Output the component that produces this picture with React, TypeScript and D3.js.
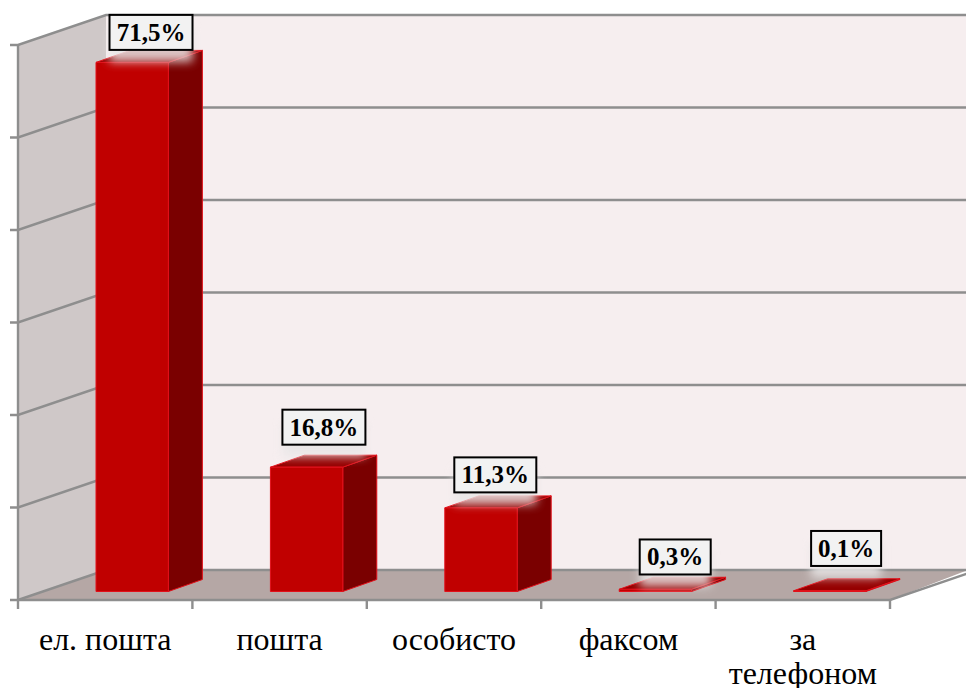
import React from "react";
import * as d3 from "d3";

const categories = ["ел. пошта", "пошта", "особисто", "факсом", "за телефоном"];
const values = [71.5, 16.8, 11.3, 0.3, 0.1];
const valueLabels = ["71,5%", "16,8%", "11,3%", "0,3%", "0,1%"];
const yTicks = [0, 12.5, 25, 37.5, 50, 62.5, 75];
const labelOffsets = [
  { x: 13.5, y: 12.5 },
  { x: 12, y: 22.5 },
  { x: 9.5, y: 15.5 },
  { x: 20.5, y: 14.8 },
  { x: 17.5, y: 24.8 },
];
const labelWidths = [83, 83, 82, 71, 70];

const W = 966;
const H = 688;
const left = 18;
const right = 890;
const floorFront = 600;
const topFront = 45;
const depthX = 88;
const depthY = 30;
const barDepthX = 34;
const barDepthY = 12;
const barInsetY = 8.5;
const barInsetX = 27;

const colors = {
  wall: "#f6eeef",
  side: "#cfc8c8",
  floor: "#b5a7a5",
  grid: "#8e8e8e",
  front: "#c00000",
  dark: "#7a0000",
  top: "#950000",
  edge: "#e2101a",
  text: "#000",
  box: "#f2f2f2",
};

const y = d3.scaleLinear().domain([0, 75]).range([floorFront, topFront]);
const x = d3.scaleBand<string>().domain(categories).range([left, right]).paddingInner(0.585).paddingOuter(0.2925);
const tickX = d3.scalePoint<string>().domain(categories).range([left, right]).padding(0.5);
const poly = (p: [number, number][]) => d3.line()(p)! + "Z";
const fontFamily = "'Liberation Serif', serif";

export default function App() {
  const bandStep = x.step();
  const backRight = W + 2;
  return (
    <svg width={W} height={H} style={{ position: "absolute", left: 0, top: 0, background: "#fff" }}>
      <defs>
        <filter id="glow" x="-30%" y="-50%" width="160%" height="200%">
          <feGaussianBlur stdDeviation="5" />
        </filter>
      </defs>
      <path d={poly([[left + depthX, y(75) - depthY], [backRight, y(75) - depthY], [backRight, y(0) - depthY], [left + depthX, y(0) - depthY]])} fill={colors.wall} />
      <path d={poly([[left, y(75)], [left + depthX, y(75) - depthY], [left + depthX, y(0) - depthY], [left, y(0)]])} fill={colors.side} />
      <path d={poly([[left, y(0)], [left + depthX, y(0) - depthY], [backRight, y(0) - depthY], [right, y(0)]])} fill={colors.floor} />
      {yTicks.map((t) => (
        <path key={t} fill="none" stroke={colors.grid} strokeWidth={2.4}
          d={d3.line()([[left - 8, y(t)], [left, y(t)], [left + depthX, y(t) - depthY], [backRight, y(t) - depthY]])!} />
      ))}
      <path d={`M${left},${y(75)}V${y(0) + 9}`} stroke={colors.grid} strokeWidth={2.4} fill="none" />
      <path d={`M${left},${y(0)}H${right}L${right + 80},${y(0) - 80 * depthY / depthX}`} stroke={colors.grid} strokeWidth={2.4} fill="none" />
      {categories.map((c, i) => {
        const tx = left + (i + 1) * bandStep;
        return <path key={c} d={`M${tx},${y(0)}v9`} stroke={colors.grid} strokeWidth={2.4} />;
      })}
      {categories.map((c, i) => {
        const x0 = x(c)! + barInsetX;
        const x1 = x0 + x.bandwidth();
        const base = y(0) - barInsetY;
        const top = base - (y(0) - y(values[i]));
        const dx = barDepthX;
        const dy = barDepthY;
        return (
          <g key={c} stroke={colors.edge} strokeWidth={1} strokeLinejoin="round">
            <path d={poly([[x1, base], [x1 + dx, base - dy], [x1 + dx, top - dy], [x1, top]])} fill={colors.dark} />
            <path d={poly([[x0, top], [x0 + dx, top - dy], [x1 + dx, top - dy], [x1, top]])} fill={colors.top} />
            <path d={poly([[x0, top], [x1, top], [x1, base], [x0, base]])} fill={colors.front} />
          </g>
        );
      })}
      {categories.map((c, i) => {
        const x0 = x(c)! + barInsetX;
        const base = y(0) - barInsetY;
        const top = base - (y(0) - y(values[i]));
        const bx = x0 + labelOffsets[i].x;
        const by = top - labelOffsets[i].y - 35;
        const w = labelWidths[i];
        return (
          <g key={c}>
            <rect x={bx} y={by + 12} width={w} height={35} fill="#e8e6e6" opacity={0.85} filter="url(#glow)" />
            <rect x={bx} y={by} width={w} height={35} fill={colors.box} stroke="#000" strokeWidth={2} />
            <text x={bx + w / 2} y={by + 26} textAnchor="middle" fontFamily={fontFamily} fontWeight="bold" fontSize={25} fill={colors.text}>
              {valueLabels[i]}
            </text>
          </g>
        );
      })}
      {categories.map((c) => {
        const lines = c === "за телефоном" ? c.split(" ") : [c];
        return (
          <text key={c} x={tickX(c)!} y={650} textAnchor="middle" fontFamily={fontFamily} fontSize={32} fill={colors.text}>
            {lines.map((l, j) => (
              <tspan key={l} x={tickX(c)! - (lines.length > 1 ? 0 : 0)} dy={j === 0 ? 0 : 34}>{l}</tspan>
            ))}
          </text>
        );
      })}
    </svg>
  );
}
